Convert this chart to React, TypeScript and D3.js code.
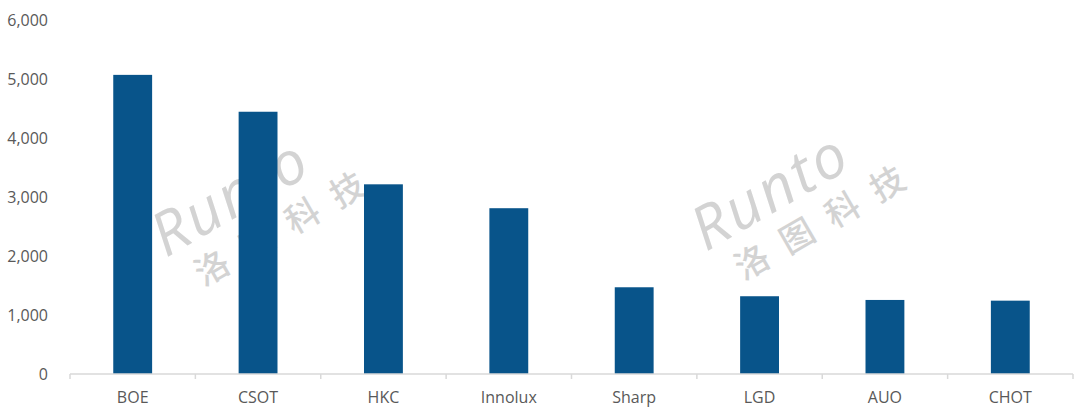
import React from "react";
import * as d3 from "d3";

const categories = ["BOE", "CSOT", "HKC", "Innolux", "Sharp", "LGD", "AUO", "CHOT"];
const values = [5070, 4445, 3215, 2810, 1470, 1318, 1255, 1243];
const yTicks = [0, 1000, 2000, 3000, 4000, 5000, 6000];

const W = 1080;
const H = 415;
const margin = { left: 70, right: 7, top: 20, bottom: 41 };

export default function App() {
  const x = d3
    .scaleBand<string>()
    .domain(categories)
    .range([margin.left, W - margin.right])
    .paddingInner(0.69)
    .paddingOuter(0.345);
  const band = (W - margin.left - margin.right) / categories.length;
  const y = d3.scaleLinear().domain([0, 6000]).range([H - margin.bottom, margin.top]);
  const fmt = d3.format(",");
  const font = "'Segoe UI', 'Open Sans', 'Noto Sans', sans-serif";
  const textColor = "#595959";
  const base = y(0);

  const watermark = (cx: number, cy: number, key: string) => (
    <g key={key} transform={`translate(${cx},${cy}) rotate(-30)`} fill="#cfcfcf" opacity={0.9}>
      <text x={0} y={0} fontSize={60} fontStyle="italic" fontFamily={font} fontWeight={400} letterSpacing={3}>
        Runto
      </text>
      <text x={18} y={44} fontSize={34} fontFamily="'Noto Sans CJK SC', sans-serif" fontWeight={500} letterSpacing={18}>
        洛图科技
      </text>
    </g>
  );

  return (
    <svg width={W} height={H} style={{ position: "absolute", left: 0, top: 0, background: "#fff" }}>
      {watermark(166, 258, "w1")}
      {watermark(706, 252, "w2")}
      {values.map((v, i) => (
        <rect
          key={categories[i]}
          x={x(categories[i])}
          y={y(v)}
          width={x.bandwidth()}
          height={base - y(v)}
          fill="#08548a"
        />
      ))}
      <line x1={margin.left} x2={W - margin.right} y1={base} y2={base} stroke="#d9d9d9" strokeWidth={1.5} />
      {d3.range(categories.length + 1).map((i) => (
        <line
          key={"t" + i}
          x1={margin.left + i * band}
          x2={margin.left + i * band}
          y1={base}
          y2={base + 5}
          stroke="#d9d9d9"
          strokeWidth={1.5}
        />
      ))}
      {yTicks.map((t) => (
        <text
          key={"y" + t}
          x={48}
          y={y(t)}
          dy="0.35em"
          textAnchor="end"
          fontSize={16}
          fontFamily={font}
          fill={textColor}
        >
          {fmt(t)}
        </text>
      ))}
      {categories.map((c) => (
        <text
          key={"x" + c}
          x={(x(c) as number) + x.bandwidth() / 2}
          y={397}
          dy="0.35em"
          textAnchor="middle"
          fontSize={16}
          fontFamily={font}
          fill={textColor}
        >
          {c}
        </text>
      ))}
    </svg>
  );
}
